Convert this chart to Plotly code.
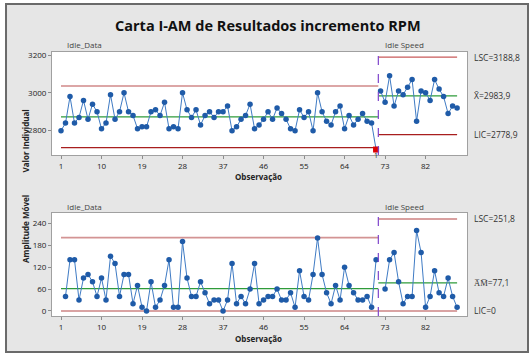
import plotly.graph_objects as go

# ---------------- data ----------------
stage_names = ["Idle_Data", "Idle Speed"]
idle_data = [2800, 2840, 2980, 2840, 2870, 2960, 2860, 2940, 2900, 2810,
             2840, 2990, 2860, 2900, 3000, 2900, 2880, 2810, 2820, 2820,
             2900, 2910, 2880, 2950, 2810, 2820, 2810, 3000, 2910, 2870,
             2910, 2830, 2880, 2900, 2870, 2900, 2900, 2930, 2800, 2820,
             2860, 2880, 2940, 2810, 2830, 2860, 2900, 2860, 2920, 2890,
             2860, 2810, 2800, 2910, 2870, 2900, 2800, 3000, 2900, 2850,
             2830, 2900, 2930, 2810, 2880, 2830, 2860, 2890, 2850, 2840,
             2700]
idle_speed = [3010, 2950, 3090, 2930, 3010, 2990, 3030, 3070, 2850, 3010,
              3000, 2960, 3070, 3020, 2980, 2890, 2930, 2920]
x_ticks = [1, 10, 19, 28, 37, 46, 55, 64, 73, 82]
y_ticks_i = [2800, 3000, 3200]
y_ticks_mr = [0, 60, 120, 180, 240]

# ---------------- computations ----------------
d2, D4 = 1.128, 1 + 3 * 0.8525 / 1.128


def stage_stats(vals, start):
    xs = list(range(start, start + len(vals)))
    mr = [abs(vals[i] - vals[i - 1]) for i in range(1, len(vals))]
    mr_x = xs[1:]
    mean = sum(vals) / len(vals)
    mrbar = sum(mr) / len(mr)
    s3 = 3 * mrbar / d2
    return dict(xs=xs, vals=vals, mr=mr, mr_x=mr_x, mean=mean, ucl=mean + s3,
                lcl=mean - s3, mrbar=mrbar, mr_ucl=D4 * mrbar, mr_lcl=0.0)


s1 = stage_stats(idle_data, 1)
s2 = stage_stats(idle_speed, 1 + len(idle_data))
split = len(idle_data) + 0.5
n_total = len(idle_data) + len(idle_speed)

BLUE_M = "#1F5BA8"
BLUE_L = "#3F7BC4"
GREEN = "#2E9B3A"
FONT = "Open Sans"

fig = go.Figure()


def hline(x0, x1, y, color, width, xa, ya):
    fig.add_trace(go.Scatter(x=[x0, x1], y=[y, y], mode="lines",
                             line=dict(color=color, width=width),
                             xaxis=xa, yaxis=ya, hoverinfo="skip", showlegend=False))


# control lines - individual chart
hline(1, split, s1["ucl"], "#D08888", 1.6, "x", "y")
hline(1, split, s1["mean"], GREEN, 1.2, "x", "y")
hline(1, split, s1["lcl"], "#A81E1E", 1.3, "x", "y")
hline(split, n_total, s2["ucl"], "#C85A5A", 1.3, "x", "y")
hline(split, n_total, s2["mean"], GREEN, 1.2, "x", "y")
hline(split, n_total, s2["lcl"], "#A81E1E", 1.3, "x", "y")
# control lines - MR chart
hline(1, split, s1["mr_ucl"], "#D39494", 1.6, "x2", "y2")
hline(1, split, s1["mrbar"], GREEN, 1.2, "x2", "y2")
hline(1, split, s1["mr_lcl"], "#D9A3A3", 2, "x2", "y2")
hline(split, n_total, s2["mr_ucl"], "#D9A0A0", 2, "x2", "y2")
hline(split, n_total, s2["mrbar"], GREEN, 1.2, "x2", "y2")
hline(split, n_total, s2["mr_lcl"], "#D9A3A3", 2, "x2", "y2")

# data series
for s in (s1, s2):
    fig.add_trace(go.Scatter(x=s["xs"], y=s["vals"], mode="lines+markers",
                             line=dict(color=BLUE_L, width=1),
                             marker=dict(color=BLUE_M, size=5.5),
                             xaxis="x", yaxis="y", showlegend=False))
    fig.add_trace(go.Scatter(x=s["mr_x"], y=s["mr"], mode="lines+markers",
                             line=dict(color=BLUE_L, width=1),
                             marker=dict(color=BLUE_M, size=5.5),
                             xaxis="x2", yaxis="y2", showlegend=False))

# out-of-control points (test 1)
ooc_x, ooc_y = [], []
for s in (s1, s2):
    for x, v in zip(s["xs"], s["vals"]):
        if v > s["ucl"] or v < s["lcl"]:
            ooc_x.append(x)
            ooc_y.append(v)
fig.add_trace(go.Scatter(x=ooc_x, y=ooc_y, mode="markers",
                         marker=dict(color="#E00000", size=6, symbol="square"),
                         xaxis="x", yaxis="y", showlegend=False))

annotations = []
for x, v in zip(ooc_x, ooc_y):
    annotations.append(dict(x=x, y=v, xref="x", yref="y", text="1", showarrow=False,
                            yshift=-6, font=dict(family=FONT, size=7, color="#222")))


def fmt(v):
    return f"{v:.1f}".replace(".", ",")


right_font = dict(family=FONT, size=8.5, color="#333")
for txt, yv, yr in [(f"LSC={fmt(s2['ucl'])}", s2["ucl"], "y"),
                    (f"X\u0304={fmt(s2['mean'])}", s2["mean"], "y"),
                    (f"LIC={fmt(s2['lcl'])}", s2["lcl"], "y"),
                    (f"LSC={fmt(s2['mr_ucl'])}", s2["mr_ucl"], "y2"),
                    (f"A\u0305M\u0305={fmt(s2['mrbar'])}", s2["mrbar"], "y2"),
                    ("LIC=0", 0, "y2")]:
    annotations.append(dict(x=1.011, y=yv, xref="paper", yref=yr, text=txt,
                            showarrow=False, xanchor="left", yanchor="middle",
                            font=right_font))

stage_font = dict(family=FONT, size=8, color="#444")
for fy in (1.028, 0.413):
    annotations.append(dict(x=0.031, y=fy, xref="paper", yref="paper", text=stage_names[0],
                            showarrow=False, xanchor="left", yanchor="middle", font=stage_font))
    annotations.append(dict(x=0.798, y=fy, xref="paper", yref="paper", text=stage_names[1],
                            showarrow=False, xanchor="left", yanchor="middle", font=stage_font))

title_font = dict(family=FONT, size=8, color="#222")
annotations += [
    dict(x=-0.082, y=0.79, xref="paper", yref="paper", text="<b>Valor Individual</b>",
         textangle=-90, showarrow=False, font=title_font),
    dict(x=-0.082, y=0.195, xref="paper", yref="paper", text="<b>Amplitude Móvel</b>",
         textangle=-90, showarrow=False, font=title_font),
    dict(x=0.497, y=0.527, xref="paper", yref="paper", text="<b>Observação</b>",
         showarrow=False, font=title_font),
    dict(x=0.497, y=-0.112, xref="paper", yref="paper", text="<b>Observação</b>",
         showarrow=False, font=title_font),
    dict(x=0.52, y=1.143, xref="paper", yref="paper",
         text="<b>Carta I-AM de Resultados incremento RPM</b>", showarrow=False,
         font=dict(family=FONT, size=14.5, color="#111")),
]

shapes = [
    dict(type="rect", xref="paper", yref="paper", x0=-0.1108, x1=1.147, y0=-0.1364, y1=1.1818,
         fillcolor="#E6E6E6", line=dict(color="#6A6A6A", width=2), layer="below"),
    dict(type="rect", xref="paper", yref="paper", x0=0, x1=1, y0=0.6098, y1=1,
         fillcolor="white", line=dict(width=0), layer="below"),
    dict(type="rect", xref="paper", yref="paper", x0=0, x1=1, y0=0, y1=0.3902,
         fillcolor="white", line=dict(width=0), layer="below"),
    dict(type="line", xref="x", yref="y domain", x0=split, x1=split, y0=0, y1=1,
         line=dict(color="#7F45CC", width=1.2, dash="dash")),
    dict(type="line", xref="x2", yref="y2 domain", x0=split, x1=split, y0=0, y1=1,
         line=dict(color="#7F45CC", width=1.2, dash="dash")),
]

tick_font = dict(family=FONT, size=8, color="#222")
axis_common = dict(showgrid=False, zeroline=False, showline=True, linecolor="#A0A0A0",
                   linewidth=1, mirror=True, ticks="outside", ticklen=3, tickcolor="#8C8C8C",
                   tickfont=tick_font, automargin=False)

fig.update_layout(
    width=532, height=355, autosize=False,
    margin=dict(l=52, r=65, t=52, b=39),
    paper_bgcolor="white", plot_bgcolor="rgba(0,0,0,0)",
    showlegend=False,
    xaxis=dict(domain=[0, 1], range=[-1, 91.2], tickvals=x_ticks, anchor="y", **axis_common),
    yaxis=dict(domain=[0.6098, 1], range=[2671, 3216], tickvals=y_ticks_i, anchor="x",
               **axis_common),
    xaxis2=dict(domain=[0, 1], range=[-1, 91.2], tickvals=x_ticks, anchor="y2", **axis_common),
    yaxis2=dict(domain=[0, 0.3902], range=[-13.7, 268.2], tickvals=y_ticks_mr, anchor="x2",
                **axis_common),
    annotations=annotations,
    shapes=shapes,
)

fig.write_html("out.html", config={"displayModeBar": False},
               post_script="document.body.style.margin='0';document.body.style.padding='0';")
